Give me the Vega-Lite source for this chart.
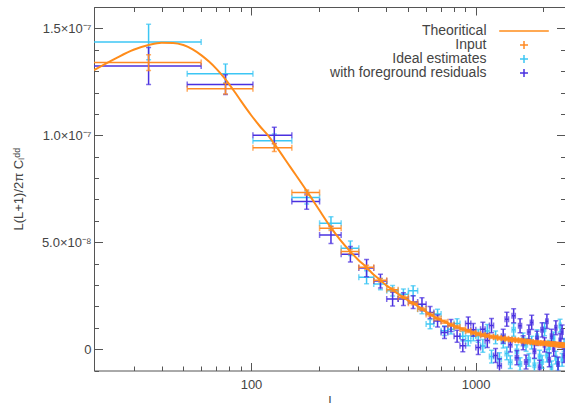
{
  "$schema": "https://vega.github.io/schema/vega-lite/v6.json",
  "width": 471,
  "height": 363.5,
  "autosize": {"type": "none"},
  "padding": {"left": 94, "top": 7, "right": 0, "bottom": 32.5},
  "background": "white",
  "config": {"view": {"stroke": null}, "axis": {"grid": false}},
  "datasets": {
    "pts": [
      {"s":"Ideal","l":35,"l0":10,"l1":60,"v":14.36e-8,"v0":13.53e-8,"v1":15.19e-8},
      {"s":"Ideal","l":77,"l0":52,"l1":102,"v":12.88e-8,"v0":12.43e-8,"v1":13.33e-8},
      {"s":"Ideal","l":127,"l0":102,"l1":152,"v":9.74e-8,"v0":9.42e-8,"v1":10.06e-8},
      {"s":"Ideal","l":177,"l0":152,"l1":202,"v":7.09e-8,"v0":6.79e-8,"v1":7.39e-8},
      {"s":"Ideal","l":227,"l0":202,"l1":252,"v":5.89e-8,"v0":5.59e-8,"v1":6.19e-8},
      {"s":"Ideal","l":277,"l0":252,"l1":302,"v":4.72e-8,"v0":4.38e-8,"v1":5.06e-8},
      {"s":"Ideal","l":327,"l0":302,"l1":352,"v":3.36e-8,"v0":3.06e-8,"v1":3.66e-8},
      {"s":"Ideal","l":377,"l0":352,"l1":402,"v":3.04e-8,"v0":2.78e-8,"v1":3.30e-8},
      {"s":"Ideal","l":427,"l0":402,"l1":452,"v":2.73e-8,"v0":2.48e-8,"v1":2.98e-8},
      {"s":"Ideal","l":477,"l0":452,"l1":502,"v":2.57e-8,"v0":2.33e-8,"v1":2.81e-8},
      {"s":"Ideal","l":527,"l0":502,"l1":552,"v":2.73e-8,"v0":2.50e-8,"v1":2.96e-8},
      {"s":"Ideal","l":577,"l0":552,"l1":602,"v":1.87e-8,"v0":1.65e-8,"v1":2.09e-8},
      {"s":"Ideal","l":627,"l0":602,"l1":652,"v":1.17e-8,"v0":0.95e-8,"v1":1.39e-8},
      {"s":"Ideal","l":677,"l0":652,"l1":702,"v":1.64e-8,"v0":1.42e-8,"v1":1.86e-8},
      {"s":"Ideal","l":727,"l0":702,"l1":752,"v":0.86e-8,"v0":0.64e-8,"v1":1.08e-8},
      {"s":"Ideal","l":777,"l0":752,"l1":802,"v":0.93e-8,"v0":0.71e-8,"v1":1.15e-8},
      {"s":"Ideal","l":827,"l0":802,"l1":852,"v":1.20e-8,"v0":0.98e-8,"v1":1.42e-8},
      {"s":"Ideal","l":877,"l0":852,"l1":902,"v":0.60e-8,"v0":0.38e-8,"v1":0.82e-8},
      {"s":"Ideal","l":927,"l0":902,"l1":952,"v":0.39e-8,"v0":0.16e-8,"v1":0.62e-8},
      {"s":"Ideal","l":977,"l0":952,"l1":1002,"v":0.62e-8,"v0":0.39e-8,"v1":0.85e-8},
      {"s":"Ideal","l":1027,"l0":1002,"l1":1052,"v":0.62e-8,"v0":0.32e-8,"v1":0.92e-8},
      {"s":"Ideal","l":1077,"l0":1052,"l1":1102,"v":0.15e-8,"v0":-0.15e-8,"v1":0.45e-8},
      {"s":"Ideal","l":1127,"l0":1102,"l1":1152,"v":0.85e-8,"v0":0.55e-8,"v1":1.15e-8},
      {"s":"Ideal","l":1177,"l0":1152,"l1":1202,"v":-0.35e-8,"v0":-0.65e-8,"v1":-0.05e-8},
      {"s":"Ideal","l":1227,"l0":1202,"l1":1252,"v":0.55e-8,"v0":0.25e-8,"v1":0.85e-8},
      {"s":"Ideal","l":1277,"l0":1252,"l1":1302,"v":-0.47e-8,"v0":-0.77e-8,"v1":-0.17e-8},
      {"s":"Ideal","l":1327,"l0":1302,"l1":1352,"v":0.35e-8,"v0":0.05e-8,"v1":0.65e-8},
      {"s":"Ideal","l":1377,"l0":1352,"l1":1402,"v":-0.20e-8,"v0":-0.50e-8,"v1":0.10e-8},
      {"s":"Ideal","l":1427,"l0":1402,"l1":1452,"v":-0.61e-8,"v0":-0.91e-8,"v1":-0.31e-8},
      {"s":"Ideal","l":1477,"l0":1452,"l1":1502,"v":0.90e-8,"v0":0.60e-8,"v1":1.20e-8},
      {"s":"Ideal","l":1527,"l0":1502,"l1":1552,"v":-0.10e-8,"v0":-0.40e-8,"v1":0.20e-8},
      {"s":"Ideal","l":1577,"l0":1552,"l1":1602,"v":-0.70e-8,"v0":-1.00e-8,"v1":-0.40e-8},
      {"s":"Ideal","l":1627,"l0":1602,"l1":1652,"v":0.45e-8,"v0":0.15e-8,"v1":0.75e-8},
      {"s":"Ideal","l":1677,"l0":1652,"l1":1702,"v":0.20e-8,"v0":-0.10e-8,"v1":0.50e-8},
      {"s":"Ideal","l":1727,"l0":1702,"l1":1752,"v":-0.50e-8,"v0":-0.80e-8,"v1":-0.20e-8},
      {"s":"Ideal","l":1777,"l0":1752,"l1":1802,"v":0.30e-8,"v0":0.00e-8,"v1":0.60e-8},
      {"s":"Ideal","l":1827,"l0":1802,"l1":1852,"v":-0.75e-8,"v0":-1.05e-8,"v1":-0.45e-8},
      {"s":"Ideal","l":1877,"l0":1852,"l1":1902,"v":0.60e-8,"v0":0.30e-8,"v1":0.90e-8},
      {"s":"Ideal","l":1927,"l0":1902,"l1":1952,"v":-0.35e-8,"v0":-0.65e-8,"v1":-0.05e-8},
      {"s":"Ideal","l":1977,"l0":1952,"l1":2002,"v":-0.60e-8,"v0":-0.90e-8,"v1":-0.30e-8},
      {"s":"Ideal","l":2027,"l0":2002,"l1":2052,"v":0.93e-8,"v0":0.63e-8,"v1":1.23e-8},
      {"s":"Ideal","l":2077,"l0":2052,"l1":2102,"v":-0.30e-8,"v0":-0.60e-8,"v1":0.00e-8},
      {"s":"Ideal","l":2127,"l0":2102,"l1":2152,"v":0.10e-8,"v0":-0.20e-8,"v1":0.40e-8},
      {"s":"Ideal","l":2177,"l0":2152,"l1":2202,"v":-0.85e-8,"v0":-1.15e-8,"v1":-0.55e-8},
      {"s":"Ideal","l":2227,"l0":2202,"l1":2252,"v":0.50e-8,"v0":0.20e-8,"v1":0.80e-8},
      {"s":"Ideal","l":2277,"l0":2252,"l1":2302,"v":-0.40e-8,"v0":-0.70e-8,"v1":-0.10e-8},
      {"s":"Ideal","l":2327,"l0":2302,"l1":2352,"v":-0.70e-8,"v0":-1.00e-8,"v1":-0.40e-8},
      {"s":"Ideal","l":2377,"l0":2352,"l1":2402,"v":1.10e-8,"v0":0.80e-8,"v1":1.40e-8},
      {"s":"Ideal","l":2427,"l0":2402,"l1":2452,"v":-0.50e-8,"v0":-0.80e-8,"v1":-0.20e-8},
      {"s":"Ideal","l":2477,"l0":2452,"l1":2502,"v":0.20e-8,"v0":-0.10e-8,"v1":0.50e-8},

      {"s":"Fg","l":35,"l0":10,"l1":60,"v":13.24e-8,"v0":12.37e-8,"v1":14.11e-8},
      {"s":"Fg","l":77,"l0":52,"l1":102,"v":12.37e-8,"v0":11.91e-8,"v1":12.83e-8},
      {"s":"Fg","l":127,"l0":102,"l1":152,"v":10.00e-8,"v0":9.62e-8,"v1":10.38e-8},
      {"s":"Fg","l":177,"l0":152,"l1":202,"v":6.90e-8,"v0":6.54e-8,"v1":7.26e-8},
      {"s":"Fg","l":227,"l0":202,"l1":252,"v":5.34e-8,"v0":4.94e-8,"v1":5.74e-8},
      {"s":"Fg","l":277,"l0":252,"l1":302,"v":4.44e-8,"v0":4.08e-8,"v1":4.80e-8},
      {"s":"Fg","l":327,"l0":302,"l1":352,"v":3.79e-8,"v0":3.39e-8,"v1":4.19e-8},
      {"s":"Fg","l":377,"l0":352,"l1":402,"v":3.18e-8,"v0":2.86e-8,"v1":3.50e-8},
      {"s":"Fg","l":427,"l0":402,"l1":452,"v":2.34e-8,"v0":2.02e-8,"v1":2.66e-8},
      {"s":"Fg","l":477,"l0":452,"l1":502,"v":2.34e-8,"v0":2.04e-8,"v1":2.64e-8},
      {"s":"Fg","l":527,"l0":502,"l1":552,"v":2.20e-8,"v0":1.90e-8,"v1":2.50e-8},
      {"s":"Fg","l":577,"l0":552,"l1":602,"v":2.10e-8,"v0":1.80e-8,"v1":2.40e-8},
      {"s":"Fg","l":627,"l0":602,"l1":652,"v":1.71e-8,"v0":1.43e-8,"v1":1.99e-8},
      {"s":"Fg","l":677,"l0":652,"l1":702,"v":1.32e-8,"v0":1.04e-8,"v1":1.60e-8},
      {"s":"Fg","l":727,"l0":702,"l1":752,"v":0.78e-8,"v0":0.50e-8,"v1":1.06e-8},
      {"s":"Fg","l":777,"l0":752,"l1":802,"v":1.10e-8,"v0":0.82e-8,"v1":1.38e-8},
      {"s":"Fg","l":827,"l0":802,"l1":852,"v":0.60e-8,"v0":0.32e-8,"v1":0.88e-8},
      {"s":"Fg","l":877,"l0":852,"l1":902,"v":0.16e-8,"v0":-0.12e-8,"v1":0.44e-8},
      {"s":"Fg","l":927,"l0":902,"l1":952,"v":1.20e-8,"v0":0.90e-8,"v1":1.50e-8},
      {"s":"Fg","l":977,"l0":952,"l1":1002,"v":0.90e-8,"v0":0.60e-8,"v1":1.20e-8},
      {"s":"Fg","l":1027,"l0":1002,"l1":1052,"v":0.08e-8,"v0":-0.25e-8,"v1":0.41e-8},
      {"s":"Fg","l":1077,"l0":1052,"l1":1102,"v":0.93e-8,"v0":0.60e-8,"v1":1.26e-8},
      {"s":"Fg","l":1127,"l0":1102,"l1":1152,"v":0.40e-8,"v0":0.07e-8,"v1":0.73e-8},
      {"s":"Fg","l":1177,"l0":1152,"l1":1202,"v":1.10e-8,"v0":0.77e-8,"v1":1.43e-8},
      {"s":"Fg","l":1227,"l0":1202,"l1":1252,"v":-0.30e-8,"v0":-0.63e-8,"v1":0.03e-8},
      {"s":"Fg","l":1277,"l0":1252,"l1":1302,"v":-0.78e-8,"v0":-1.11e-8,"v1":-0.45e-8},
      {"s":"Fg","l":1327,"l0":1302,"l1":1352,"v":0.60e-8,"v0":0.27e-8,"v1":0.93e-8},
      {"s":"Fg","l":1377,"l0":1352,"l1":1402,"v":1.40e-8,"v0":1.07e-8,"v1":1.73e-8},
      {"s":"Fg","l":1427,"l0":1402,"l1":1452,"v":0.20e-8,"v0":-0.13e-8,"v1":0.53e-8},
      {"s":"Fg","l":1477,"l0":1452,"l1":1502,"v":1.56e-8,"v0":1.23e-8,"v1":1.89e-8},
      {"s":"Fg","l":1527,"l0":1502,"l1":1552,"v":-0.40e-8,"v0":-0.73e-8,"v1":-0.07e-8},
      {"s":"Fg","l":1577,"l0":1552,"l1":1602,"v":1.09e-8,"v0":0.76e-8,"v1":1.42e-8},
      {"s":"Fg","l":1627,"l0":1602,"l1":1652,"v":0.30e-8,"v0":-0.03e-8,"v1":0.63e-8},
      {"s":"Fg","l":1677,"l0":1652,"l1":1702,"v":-0.60e-8,"v0":-0.93e-8,"v1":-0.27e-8},
      {"s":"Fg","l":1727,"l0":1702,"l1":1752,"v":0.80e-8,"v0":0.47e-8,"v1":1.13e-8},
      {"s":"Fg","l":1777,"l0":1752,"l1":1802,"v":1.25e-8,"v0":0.92e-8,"v1":1.58e-8},
      {"s":"Fg","l":1827,"l0":1802,"l1":1852,"v":-0.10e-8,"v0":-0.43e-8,"v1":0.23e-8},
      {"s":"Fg","l":1877,"l0":1852,"l1":1902,"v":0.50e-8,"v0":0.17e-8,"v1":0.83e-8},
      {"s":"Fg","l":1927,"l0":1902,"l1":1952,"v":-0.85e-8,"v0":-1.18e-8,"v1":-0.52e-8},
      {"s":"Fg","l":1977,"l0":1952,"l1":2002,"v":0.90e-8,"v0":0.57e-8,"v1":1.23e-8},
      {"s":"Fg","l":2027,"l0":2002,"l1":2052,"v":0.20e-8,"v0":-0.13e-8,"v1":0.53e-8},
      {"s":"Fg","l":2077,"l0":2052,"l1":2102,"v":1.30e-8,"v0":0.97e-8,"v1":1.63e-8},
      {"s":"Fg","l":2127,"l0":2102,"l1":2152,"v":-0.50e-8,"v0":-0.83e-8,"v1":-0.17e-8},
      {"s":"Fg","l":2177,"l0":2152,"l1":2202,"v":0.60e-8,"v0":0.27e-8,"v1":0.93e-8},
      {"s":"Fg","l":2227,"l0":2202,"l1":2252,"v":0.00e-8,"v0":-0.33e-8,"v1":0.33e-8},
      {"s":"Fg","l":2277,"l0":2252,"l1":2302,"v":1.00e-8,"v0":0.67e-8,"v1":1.33e-8},
      {"s":"Fg","l":2327,"l0":2302,"l1":2352,"v":-0.70e-8,"v0":-1.03e-8,"v1":-0.37e-8},
      {"s":"Fg","l":2377,"l0":2352,"l1":2402,"v":0.40e-8,"v0":0.07e-8,"v1":0.73e-8},
      {"s":"Fg","l":2427,"l0":2402,"l1":2452,"v":0.80e-8,"v0":0.47e-8,"v1":1.13e-8},
      {"s":"Fg","l":2477,"l0":2452,"l1":2502,"v":-0.30e-8,"v0":-0.63e-8,"v1":0.03e-8},

      {"s":"Input","l":35,"l0":10,"l1":60,"v":13.40e-8,"v0":13.03e-8,"v1":13.77e-8},
      {"s":"Input","l":77,"l0":52,"l1":102,"v":12.18e-8,"v0":11.93e-8,"v1":12.43e-8},
      {"s":"Input","l":127,"l0":102,"l1":152,"v":9.42e-8,"v0":9.24e-8,"v1":9.60e-8},
      {"s":"Input","l":177,"l0":152,"l1":202,"v":7.32e-8,"v0":7.20e-8,"v1":7.44e-8},
      {"s":"Input","l":227,"l0":202,"l1":252,"v":5.65e-8,"v0":5.55e-8,"v1":5.75e-8},
      {"s":"Input","l":277,"l0":252,"l1":302,"v":4.56e-8,"v0":4.46e-8,"v1":4.66e-8},
      {"s":"Input","l":327,"l0":302,"l1":352,"v":3.83e-8,"v0":3.74e-8,"v1":3.92e-8},
      {"s":"Input","l":377,"l0":352,"l1":402,"v":3.22e-8,"v0":3.14e-8,"v1":3.30e-8},
      {"s":"Input","l":427,"l0":402,"l1":452,"v":2.78e-8,"v0":2.70e-8,"v1":2.86e-8},
      {"s":"Input","l":477,"l0":452,"l1":502,"v":2.42e-8,"v0":2.35e-8,"v1":2.49e-8},
      {"s":"Input","l":527,"l0":502,"l1":552,"v":2.15e-8,"v0":2.08e-8,"v1":2.22e-8},
      {"s":"Input","l":577,"l0":552,"l1":602,"v":1.88e-8,"v0":1.81e-8,"v1":1.95e-8},
      {"s":"Input","l":627,"l0":602,"l1":652,"v":1.62e-8,"v0":1.55e-8,"v1":1.69e-8},
      {"s":"Input","l":677,"l0":652,"l1":702,"v":1.43e-8,"v0":1.36e-8,"v1":1.50e-8},
      {"s":"Input","l":727,"l0":702,"l1":752,"v":1.28e-8,"v0":1.21e-8,"v1":1.35e-8},
      {"s":"Input","l":777,"l0":752,"l1":802,"v":1.14e-8,"v0":1.07e-8,"v1":1.21e-8},
      {"s":"Input","l":827,"l0":802,"l1":852,"v":1.03e-8,"v0":0.96e-8,"v1":1.10e-8},
      {"s":"Input","l":877,"l0":852,"l1":902,"v":0.93e-8,"v0":0.86e-8,"v1":1.00e-8},
      {"s":"Input","l":927,"l0":902,"l1":952,"v":0.85e-8,"v0":0.78e-8,"v1":0.92e-8},
      {"s":"Input","l":977,"l0":952,"l1":1002,"v":0.77e-8,"v0":0.70e-8,"v1":0.84e-8},
      {"s":"Input","l":1027,"l0":1002,"l1":1052,"v":0.71e-8,"v0":0.64e-8,"v1":0.78e-8},
      {"s":"Input","l":1077,"l0":1052,"l1":1102,"v":0.66e-8,"v0":0.59e-8,"v1":0.73e-8},
      {"s":"Input","l":1127,"l0":1102,"l1":1152,"v":0.62e-8,"v0":0.55e-8,"v1":0.69e-8},
      {"s":"Input","l":1177,"l0":1152,"l1":1202,"v":0.58e-8,"v0":0.51e-8,"v1":0.65e-8},
      {"s":"Input","l":1227,"l0":1202,"l1":1252,"v":0.55e-8,"v0":0.48e-8,"v1":0.62e-8},
      {"s":"Input","l":1277,"l0":1252,"l1":1302,"v":0.52e-8,"v0":0.45e-8,"v1":0.59e-8},
      {"s":"Input","l":1327,"l0":1302,"l1":1352,"v":0.50e-8,"v0":0.43e-8,"v1":0.57e-8},
      {"s":"Input","l":1377,"l0":1352,"l1":1402,"v":0.48e-8,"v0":0.40e-8,"v1":0.56e-8},
      {"s":"Input","l":1427,"l0":1402,"l1":1452,"v":0.45e-8,"v0":0.37e-8,"v1":0.53e-8},
      {"s":"Input","l":1477,"l0":1452,"l1":1502,"v":0.44e-8,"v0":0.36e-8,"v1":0.52e-8},
      {"s":"Input","l":1527,"l0":1502,"l1":1552,"v":0.42e-8,"v0":0.34e-8,"v1":0.50e-8},
      {"s":"Input","l":1577,"l0":1552,"l1":1602,"v":0.40e-8,"v0":0.32e-8,"v1":0.48e-8},
      {"s":"Input","l":1627,"l0":1602,"l1":1652,"v":0.38e-8,"v0":0.30e-8,"v1":0.46e-8},
      {"s":"Input","l":1677,"l0":1652,"l1":1702,"v":0.36e-8,"v0":0.28e-8,"v1":0.44e-8},
      {"s":"Input","l":1727,"l0":1702,"l1":1752,"v":0.35e-8,"v0":0.27e-8,"v1":0.43e-8},
      {"s":"Input","l":1777,"l0":1752,"l1":1802,"v":0.33e-8,"v0":0.25e-8,"v1":0.41e-8},
      {"s":"Input","l":1827,"l0":1802,"l1":1852,"v":0.31e-8,"v0":0.23e-8,"v1":0.39e-8},
      {"s":"Input","l":1877,"l0":1852,"l1":1902,"v":0.30e-8,"v0":0.22e-8,"v1":0.38e-8},
      {"s":"Input","l":1927,"l0":1902,"l1":1952,"v":0.29e-8,"v0":0.21e-8,"v1":0.37e-8},
      {"s":"Input","l":1977,"l0":1952,"l1":2002,"v":0.28e-8,"v0":0.20e-8,"v1":0.36e-8},
      {"s":"Input","l":2027,"l0":2002,"l1":2052,"v":0.27e-8,"v0":0.19e-8,"v1":0.35e-8},
      {"s":"Input","l":2077,"l0":2052,"l1":2102,"v":0.26e-8,"v0":0.18e-8,"v1":0.34e-8},
      {"s":"Input","l":2127,"l0":2102,"l1":2152,"v":0.25e-8,"v0":0.17e-8,"v1":0.33e-8},
      {"s":"Input","l":2177,"l0":2152,"l1":2202,"v":0.24e-8,"v0":0.15e-8,"v1":0.33e-8},
      {"s":"Input","l":2227,"l0":2202,"l1":2252,"v":0.23e-8,"v0":0.14e-8,"v1":0.32e-8},
      {"s":"Input","l":2277,"l0":2252,"l1":2302,"v":0.22e-8,"v0":0.13e-8,"v1":0.31e-8},
      {"s":"Input","l":2327,"l0":2302,"l1":2352,"v":0.21e-8,"v0":0.12e-8,"v1":0.30e-8},
      {"s":"Input","l":2377,"l0":2352,"l1":2402,"v":0.20e-8,"v0":0.11e-8,"v1":0.29e-8},
      {"s":"Input","l":2427,"l0":2402,"l1":2452,"v":0.19e-8,"v0":0.10e-8,"v1":0.28e-8},
      {"s":"Input","l":2477,"l0":2452,"l1":2502,"v":0.18e-8,"v0":0.09e-8,"v1":0.27e-8}
    ],
    "theory": [
      {"l":20,"v":13.05e-8},{"l":25,"v":13.6e-8},{"l":30,"v":14.0e-8},{"l":35,"v":14.22e-8},
      {"l":40,"v":14.33e-8},{"l":45,"v":14.32e-8},{"l":50,"v":14.22e-8},{"l":55,"v":14.02e-8},
      {"l":60,"v":13.75e-8},{"l":65,"v":13.45e-8},{"l":70,"v":13.12e-8},{"l":77,"v":12.62e-8},
      {"l":85,"v":12.0e-8},{"l":90,"v":11.62e-8},{"l":100,"v":10.95e-8},{"l":110,"v":10.4e-8},
      {"l":120,"v":9.95e-8},{"l":127,"v":9.6e-8},{"l":150,"v":8.5e-8},{"l":177,"v":7.4e-8},
      {"l":200,"v":6.55e-8},{"l":227,"v":5.68e-8},{"l":250,"v":5.1e-8},{"l":277,"v":4.56e-8},
      {"l":300,"v":4.18e-8},{"l":327,"v":3.82e-8},{"l":350,"v":3.5e-8},{"l":377,"v":3.22e-8},
      {"l":400,"v":2.98e-8},{"l":427,"v":2.78e-8},{"l":450,"v":2.6e-8},{"l":477,"v":2.42e-8},
      {"l":500,"v":2.28e-8},{"l":527,"v":2.15e-8},{"l":577,"v":1.88e-8},{"l":627,"v":1.62e-8},
      {"l":677,"v":1.43e-8},{"l":727,"v":1.28e-8},{"l":777,"v":1.14e-8},{"l":827,"v":1.03e-8},
      {"l":900,"v":0.9e-8},{"l":1000,"v":0.74e-8},{"l":1100,"v":0.65e-8},{"l":1200,"v":0.57e-8},
      {"l":1300,"v":0.51e-8},{"l":1400,"v":0.47e-8},{"l":1500,"v":0.43e-8},{"l":1600,"v":0.39e-8},
      {"l":1700,"v":0.355e-8},{"l":1800,"v":0.32e-8},{"l":1900,"v":0.295e-8},{"l":2000,"v":0.275e-8},
      {"l":2100,"v":0.255e-8},{"l":2200,"v":0.235e-8},{"l":2300,"v":0.215e-8},{"l":2400,"v":0.195e-8},
      {"l":2500,"v":0.18e-8}
    ],
    "leg": [
      {"s":"Theoritical"},{"s":"Input"},{"s":"Ideal estimates"},{"s":"with foreground residuals"}
    ]
  },
  "resolve": {"axis": {"x": "independent", "y": "independent"}},
  "layer": [
    {
      "data": {"name": "pts"},
      "transform": [{"filter": "datum.s == 'Ideal'"}],
      "mark": {"type": "errorbar", "color": "#3cc6f4", "rule": {"clip": true, "strokeWidth": 1.5}, "ticks": {"clip": true, "size": 6, "thickness": 1.5}},
      "encoding": {
        "x": {"field": "l0", "type": "quantitative", "scale": {"type": "log", "domain": [20, 2500], "nice": false},
          "axis": {"orient": "bottom", "values": [20,30,40,50,60,70,80,90,100,200,300,400,500,600,700,800,900,1000,2000], "labels": false, "domain": false, "title": null, "tickColor": "#555", "tickWidth": 1,
            "tickSize": {"condition": {"test": "datum.value == 100 || datum.value == 1000", "value": -8}, "value": -4.5}}},
        "x2": {"field": "l1"},
        "y": {"field": "v", "type": "quantitative", "scale": {"domain": [-1e-8, 1.6e-7], "nice": false, "zero": false},
          "axis": {"orient": "left", "values": [-1e-8,0,1e-8,2e-8,3e-8,4e-8,5e-8,6e-8,7e-8,8e-8,9e-8,10e-8,11e-8,12e-8,13e-8,14e-8,15e-8,16e-8], "labels": false, "domain": false, "title": null, "tickColor": "#555", "tickWidth": 1,
            "tickSize": {"condition": {"test": "abs(datum.value*2e7 - round(datum.value*2e7)) < 0.01", "value": -8.5}, "value": -4.5}}}
      }
    },
    {
      "data": {"name": "pts"},
      "transform": [{"filter": "datum.s == 'Ideal'"}],
      "mark": {"type": "errorbar", "color": "#3cc6f4", "rule": {"clip": true, "strokeWidth": 1.5}, "ticks": {"clip": true, "size": 5, "thickness": 1.5}},
      "encoding": {
        "x": {"field": "l", "type": "quantitative", "scale": {"type": "log", "domain": [20, 2500], "nice": false},
          "axis": {"orient": "top", "values": [20,30,40,50,60,70,80,90,100,200,300,400,500,600,700,800,900,1000,2000], "labels": false, "domain": true, "domainColor": "#555", "title": null, "tickColor": "#555", "tickWidth": 1,
            "tickSize": {"condition": {"test": "datum.value == 100 || datum.value == 1000", "value": -8}, "value": -4.5}}},
        "y": {"field": "v0", "type": "quantitative", "scale": {"domain": [-1e-8, 1.6e-7], "nice": false, "zero": false},
          "axis": {"orient": "right", "values": [-1e-8,0,1e-8,2e-8,3e-8,4e-8,5e-8,6e-8,7e-8,8e-8,9e-8,10e-8,11e-8,12e-8,13e-8,14e-8,15e-8,16e-8], "labels": false, "domain": false, "title": null, "tickColor": "#555", "tickWidth": 1,
            "tickSize": {"condition": {"test": "abs(datum.value*2e7 - round(datum.value*2e7)) < 0.01", "value": -8.5}, "value": -4.5}}},
        "y2": {"field": "v1"}
      }
    },
    {
      "data": {"name": "pts"},
      "transform": [{"filter": "datum.s == 'Fg'"}],
      "mark": {"type": "errorbar", "color": "#4a30e0", "rule": {"clip": true, "strokeWidth": 1.5}, "ticks": {"clip": true, "size": 6, "thickness": 1.5}},
      "encoding": {
        "x": {"field": "l0", "type": "quantitative", "scale": {"type": "log", "domain": [20, 2500], "nice": false}, "axis": null},
        "x2": {"field": "l1"},
        "y": {"field": "v", "type": "quantitative", "scale": {"domain": [-1e-8, 1.6e-7], "nice": false, "zero": false}, "axis": null}
      }
    },
    {
      "data": {"name": "pts"},
      "transform": [{"filter": "datum.s == 'Fg'"}],
      "mark": {"type": "errorbar", "color": "#4a30e0", "rule": {"clip": true, "strokeWidth": 1.5}, "ticks": {"clip": true, "size": 5, "thickness": 1.5}},
      "encoding": {
        "x": {"field": "l", "type": "quantitative", "scale": {"type": "log", "domain": [20, 2500], "nice": false}, "axis": null},
        "y": {"field": "v0", "type": "quantitative", "scale": {"domain": [-1e-8, 1.6e-7], "nice": false, "zero": false}, "axis": null},
        "y2": {"field": "v1"}
      }
    },
    {
      "data": {"name": "pts"},
      "transform": [{"filter": "datum.s == 'Input'"}],
      "mark": {"type": "errorbar", "color": "#ff8a24", "rule": {"clip": true, "strokeWidth": 1.5}, "ticks": {"clip": true, "size": 6, "thickness": 1.5}},
      "encoding": {
        "x": {"field": "l0", "type": "quantitative", "scale": {"type": "log", "domain": [20, 2500], "nice": false}, "axis": null},
        "x2": {"field": "l1"},
        "y": {"field": "v", "type": "quantitative", "scale": {"domain": [-1e-8, 1.6e-7], "nice": false, "zero": false}, "axis": null}
      }
    },
    {
      "data": {"name": "pts"},
      "transform": [{"filter": "datum.s == 'Input'"}],
      "mark": {"type": "errorbar", "color": "#ff8a24", "rule": {"clip": true, "strokeWidth": 1.5}, "ticks": {"clip": true, "size": 5, "thickness": 1.5}},
      "encoding": {
        "x": {"field": "l", "type": "quantitative", "scale": {"type": "log", "domain": [20, 2500], "nice": false}, "axis": null},
        "y": {"field": "v0", "type": "quantitative", "scale": {"domain": [-1e-8, 1.6e-7], "nice": false, "zero": false}, "axis": null},
        "y2": {"field": "v1"}
      }
    },
    {
      "data": {"name": "theory"},
      "mark": {"type": "line", "color": "#ff8c1a", "strokeWidth": 2, "clip": true, "interpolate": "monotone"},
      "encoding": {
        "x": {"field": "l", "type": "quantitative", "scale": {"type": "log", "domain": [20, 2500], "nice": false},
          "axis": {"orient": "bottom", "values": [100, 1000], "ticks": false, "domain": true, "domainColor": "#555",
            "labelExpr": "'' + datum.value", "labelFont": "Liberation Sans", "labelFontSize": 13, "labelColor": "#444", "labelPadding": 8,
            "title": "l", "titleFont": "Liberation Sans", "titleFontSize": 13, "titleFontWeight": "normal", "titleColor": "#444", "titlePadding": 3}},
        "y": {"field": "v", "type": "quantitative", "scale": {"domain": [-1e-8, 1.6e-7], "nice": false, "zero": false},
          "axis": {"orient": "left", "values": [0, 5e-8, 1e-7, 1.5e-7], "ticks": false, "domain": true, "domainColor": "#555",
            "labelExpr": "datum.value == 0 ? '0' : (datum.value < 9e-8 ? format(datum.value*1e8, '.1f') + '×10⁻⁸' : format(datum.value*1e7, '.1f') + '×10⁻⁷')",
            "labelFont": "Liberation Sans", "labelFontSize": 13, "labelColor": "#444", "labelPadding": 3,
            "title": "L(L+1)/2π Cₗᵈᵈ", "titleFont": "Liberation Sans", "titleFontSize": 13, "titleFontWeight": "normal", "titleColor": "#444", "titlePadding": 16}}
      }
    },
    {
      "data": {"name": "leg"},
      "mark": {"type": "point", "filled": false, "opacity": 0},
      "encoding": {
        "color": {"field": "s", "type": "nominal",
          "scale": {"domain": ["Theoritical", "Input", "Ideal estimates", "with foreground residuals"], "range": ["#ff8c1a", "#ff8a24", "#3cc6f4", "#4a30e0"]},
          "legend": {"orient": "none", "legendX": 423, "legendY": 17, "title": null, "padding": 0, "labelAlign": "right", "labelOffset": -44.5,
            "labelFont": "Liberation Sans", "labelFontSize": 14, "labelColor": "#444", "labelLimit": 400, "symbolSize": 64, "symbolStrokeWidth": 1.5, "symbolOpacity": 1, "rowPadding": 0}},
        "shape": {"field": "s", "type": "nominal",
          "scale": {"domain": ["Theoritical", "Input", "Ideal estimates", "with foreground residuals"], "range": ["M-6.2,0H6.2", "M-1,0H1M0,-1V1", "M-1,0H1M0,-1V1", "M-1,0H1M0,-1V1"]},
          "legend": {"orient": "none", "legendX": 423, "legendY": 17, "title": null, "padding": 0, "labelAlign": "right", "labelOffset": -44.5,
            "labelFont": "Liberation Sans", "labelFontSize": 14, "labelColor": "#444", "labelLimit": 400, "symbolSize": 64, "symbolStrokeWidth": 1.5, "symbolOpacity": 1, "rowPadding": 0}}
      }
    }
  ]
}
